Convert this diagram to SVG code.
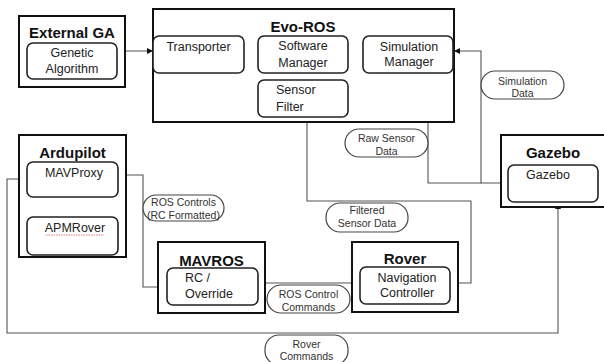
<svg xmlns="http://www.w3.org/2000/svg" width="604" height="362" viewBox="0 0 604 362">
<defs>
<marker id="ah" viewBox="0 0 10 10" refX="10" refY="5" markerWidth="6" markerHeight="6" orient="auto-start-reverse" markerUnits="userSpaceOnUse">
<path d="M0,0 L10,5 L0,10 z" fill="#111"/>
</marker>
</defs>
<style>
.outer{fill:#fff;stroke:#111;stroke-width:2}
.inner{fill:#fff;stroke:#222;stroke-width:1.6}
.pill{fill:#fff;stroke:#444;stroke-width:1.2}
.title{font-family:"Liberation Sans",Arial,sans-serif;font-weight:bold;font-size:15px;fill:#111;text-anchor:middle}
.lbl{font-family:"Liberation Sans",Arial,sans-serif;font-size:12.5px;fill:#222;text-anchor:middle}
.pt{font-family:"Liberation Sans",Arial,sans-serif;font-size:10.5px;fill:#333;text-anchor:middle}
.conn{fill:none;stroke:#555;stroke-width:1.1}
</style>
<rect width="604" height="362" fill="#fff"/>
<g id="connectors">
<path class="conn" d="M118,51 H153" marker-start="url(#ah)" marker-end="url(#ah)"/>
<path class="conn" d="M244,62 H258" marker-start="url(#ah)" marker-end="url(#ah)"/>
<path class="conn" d="M348,53 H363" marker-start="url(#ah)" marker-end="url(#ah)"/>
<path class="conn" d="M508,183 H481 V51 H454" marker-end="url(#ah)"/>
<path class="conn" d="M481,183 H428 V97 H349" marker-end="url(#ah)"/>
<path class="conn" d="M307,117 V201 H471 V283 H451" marker-end="url(#ah)"/>
<path class="conn" d="M360,283 H259" marker-end="url(#ah)"/>
<path class="conn" d="M167,287 H143 V175 H119" marker-end="url(#ah)"/>
<path class="conn" d="M73,198 V216" marker-start="url(#ah)" marker-end="url(#ah)"/>
<path class="conn" d="M27,179 H7 V333 H558 V203" marker-end="url(#ah)"/>
</g>
<g id="external-ga">
<rect class="outer" x="19" y="16" width="106" height="71"/>
<text class="title" x="72" y="38">External GA</text>
<g id="genetic-algorithm">
<rect class="inner" x="27" y="43" width="90" height="36" rx="6"/>
<text class="lbl" x="72" y="57">Genetic</text>
<text class="lbl" x="72" y="73">Algorithm</text>
</g>
</g>
<g id="evo-ros">
<rect class="outer" x="153" y="9" width="301" height="113"/>
<text class="title" x="303" y="32">Evo-ROS</text>
</g>
<g id="transporter">
<rect class="inner" x="153" y="36" width="91" height="37" rx="6"/>
<text class="lbl" x="198.5" y="51">Transporter</text>
</g>
<g id="software-manager">
<rect class="inner" x="258" y="36" width="90" height="37" rx="6"/>
<text class="lbl" x="303" y="50">Software</text>
<text class="lbl" x="303" y="67">Manager</text>
</g>
<g id="simulation-manager">
<rect class="inner" x="363" y="36" width="90" height="37" rx="6"/>
<text class="lbl" x="409" y="51">Simulation</text>
<text class="lbl" x="409" y="66">Manager</text>
</g>
<g id="sensor-filter">
<rect class="inner" x="258" y="80" width="90" height="37" rx="6"/>
<text class="lbl" x="276" y="94" style="text-anchor:start">Sensor</text>
<text class="lbl" x="276" y="111" style="text-anchor:start">Filter</text>
</g>
<g id="ardupilot">
<rect class="outer" x="19" y="135" width="107" height="122"/>
<text class="title" x="72.5" y="158">Ardupilot</text>
<g id="mavproxy">
<rect class="inner" x="27" y="162" width="91" height="35" rx="6"/>
<text class="lbl" x="74" y="177">MAVProxy</text>
</g>
<g id="apmrover">
<rect class="inner" x="27" y="217" width="91" height="38" rx="6"/>
<text class="lbl" x="75" y="232">APMRover</text>
<path d="M46,235 H104" stroke="#e05050" stroke-width="0.8" stroke-dasharray="1.5,1" fill="none"/>
</g>
</g>
<g id="gazebo">
<rect class="outer" x="501" y="135" width="110" height="72"/>
<text class="title" x="553" y="158">Gazebo</text>
<g id="gazebo-inner">
<rect class="inner" x="508" y="165" width="90" height="37" rx="6"/>
<text class="lbl" x="548" y="179">Gazebo</text>
</g>
</g>
<g id="mavros">
<rect class="outer" x="158" y="242" width="107" height="71"/>
<text class="title" x="211.5" y="266">MAVROS</text>
<g id="rc-override">
<rect class="inner" x="167" y="268" width="91" height="37" rx="6"/>
<text class="lbl" x="185" y="282" style="text-anchor:start">RC /</text>
<text class="lbl" x="185" y="298" style="text-anchor:start">Override</text>
</g>
</g>
<g id="rover">
<rect class="outer" x="352" y="242" width="106" height="70"/>
<text class="title" x="405" y="264">Rover</text>
<g id="navigation-controller">
<rect class="inner" x="360" y="267" width="90" height="37" rx="6"/>
<text class="lbl" x="407" y="282">Navigation</text>
<text class="lbl" x="407" y="297">Controller</text>
</g>
</g>
<g id="label-simulation-data">
<rect class="pill" x="481" y="71" width="83" height="28" rx="14"/>
<text class="pt" x="522.5" y="85">Simulation</text>
<text class="pt" x="522.5" y="97">Data</text>
</g>
<g id="label-raw-sensor-data">
<rect class="pill" x="345" y="129" width="83" height="28" rx="14"/>
<text class="pt" x="386.5" y="142">Raw Sensor</text>
<text class="pt" x="386.5" y="155">Data</text>
</g>
<g id="label-filtered-sensor-data">
<rect class="pill" x="326" y="203" width="82" height="29" rx="14"/>
<text class="pt" x="367" y="214">Filtered</text>
<text class="pt" x="367" y="227">Sensor Data</text>
</g>
<g id="label-ros-controls">
<rect class="pill" x="143" y="195" width="81" height="26" rx="13"/>
<text class="pt" x="183.5" y="206">ROS Controls</text>
<text class="pt" x="183.5" y="219">(RC Formatted)</text>
</g>
<g id="label-ros-control-commands">
<rect class="pill" x="267" y="285" width="83" height="28" rx="14"/>
<text class="pt" x="308.5" y="298">ROS Control</text>
<text class="pt" x="308.5" y="311">Commands</text>
</g>
<g id="label-rover-commands">
<rect class="pill" x="265" y="335" width="83" height="30" rx="14"/>
<text class="pt" x="306.5" y="348">Rover</text>
<text class="pt" x="306.5" y="360">Commands</text>
</g>
</svg>
